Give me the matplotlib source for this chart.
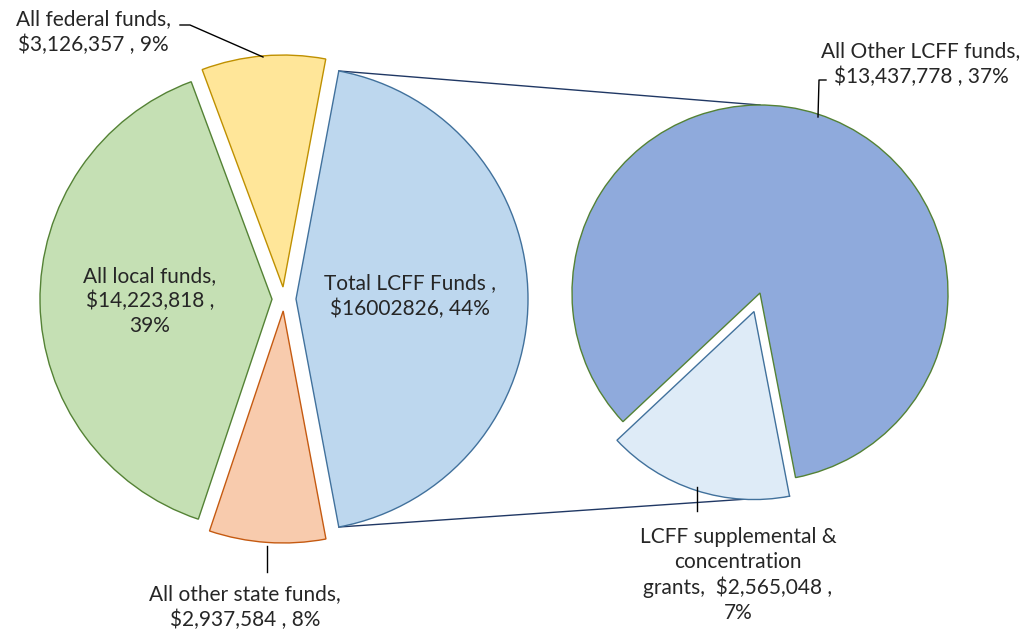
import numpy as np
import matplotlib.pyplot as plt

# left pie: sources of funds
src_labels = ["Total LCFF Funds ,\n$16002826, 44%",
              "All federal funds,\n$3,126,357 , 9%",
              "All local funds,\n$14,223,818 ,\n39%",
              "All other state funds,\n$2,937,584 , 8%"]
src_values = [16002826, 3126357, 14223818, 2937584]
src_colors = ["#BDD7EE", "#FFE699", "#C5E0B4", "#F8CBAD"]
src_edges = ["#41719C", "#BF9000", "#548235", "#C55A11"]

# right pie: breakdown of LCFF
lcff_labels = ["All Other LCFF funds,\n$13,437,778 , 37%",
               "LCFF supplemental &\nconcentration\ngrants,  $2,565,048 ,\n7%"]
lcff_values = [13437778, 2565048]
lcff_colors = ["#8FAADC", "#DEEBF7"]
lcff_edges = ["#548235", "#41719C"]

W, H = 1025, 631
fig = plt.figure(figsize=(W / 100, H / 100), dpi=100)
ax = fig.add_axes([0, 0, 1, 1])

plt.rcParams['font.family'] = ['Lato', 'DejaVu Sans']
txt = "#262626"
fs = 15

# left pie (explode is in data units = pixels here)
c1 = (284, H - 299)
r1 = 232
frac = src_values[0] / sum(src_values)
start1 = -frac * 180
wedges1, _ = ax.pie(src_values, colors=src_colors, startangle=start1, counterclock=True,
                    radius=r1, center=c1, explode=[12] * 4, frame=True,
                    wedgeprops=dict(linewidth=1.0))
for w, e in zip(wedges1, src_edges):
    w.set_edgecolor(e)

# right pie
c2 = (760, H - 293)
r2 = 188
start2 = -79.1
wedges2, _ = ax.pie(lcff_values, colors=lcff_colors, startangle=start2, counterclock=True,
                    radius=r2, center=c2, explode=[0, 19.5], frame=True,
                    wedgeprops=dict(linewidth=1.0))
for w, e in zip(wedges2, lcff_edges):
    w.set_edgecolor(e)
ax.set_xlim(0, W)
ax.set_ylim(0, H)
ax.set_aspect("equal")
ax.axis("off")

# connector lines from LCFF slice to the breakdown pie
lc = wedges1[0]
lcx, lcy = lc.center
a_top = np.deg2rad(lc.theta2)
a_bot = np.deg2rad(lc.theta1)
p_top = (lcx + r1 * np.cos(a_top), lcy + r1 * np.sin(a_top))
p_bot = (lcx + r1 * np.cos(a_bot), lcy + r1 * np.sin(a_bot))
q_top = (c2[0], c2[1] + r2)
pw = wedges2[1]
a_p = np.deg2rad(pw.theta2)
q_bot = (pw.center[0] + r2 * np.cos(a_p), pw.center[1] + r2 * np.sin(a_p))
ax.plot([p_top[0], q_top[0]], [p_top[1], q_top[1]], color="#203864", lw=1.0, zorder=0)
ax.plot([p_bot[0], q_bot[0]], [p_bot[1], q_bot[1]], color="#203864", lw=1.0, zorder=0)

# labels
ls = 1.3
ax.text(410, H - 296, src_labels[0], ha="center", va="center", fontsize=fs, color=txt, linespacing=ls)
ax.text(93, H - 32, src_labels[1], ha="center", va="center", fontsize=fs, color=txt, linespacing=ls)
ax.text(150, H - 301, src_labels[2], ha="center", va="center", fontsize=fs, color=txt, linespacing=ls)
ax.text(245, H - 607, src_labels[3], ha="center", va="center", fontsize=fs, color=txt, linespacing=ls)
ax.text(921, H - 64, lcff_labels[0], ha="center", va="center", fontsize=fs, color=txt, linespacing=ls)
ax.text(738, H - 575, lcff_labels[1], ha="center", va="center", fontsize=fs, color=txt, linespacing=ls)

# leader lines
lk = dict(color="black", lw=1.0)
ax.plot([180, 190, 263], [H - 25, H - 25, H - 57], **lk)
ax.plot([267, 267], [H - 546, H - 572], **lk)
ax.plot([826, 819, 818], [H - 80, H - 80, H - 117], **lk)
ax.plot([697, 697], [H - 487, H - 511], **lk)

fig.savefig("out.png", dpi=100, facecolor="white")
